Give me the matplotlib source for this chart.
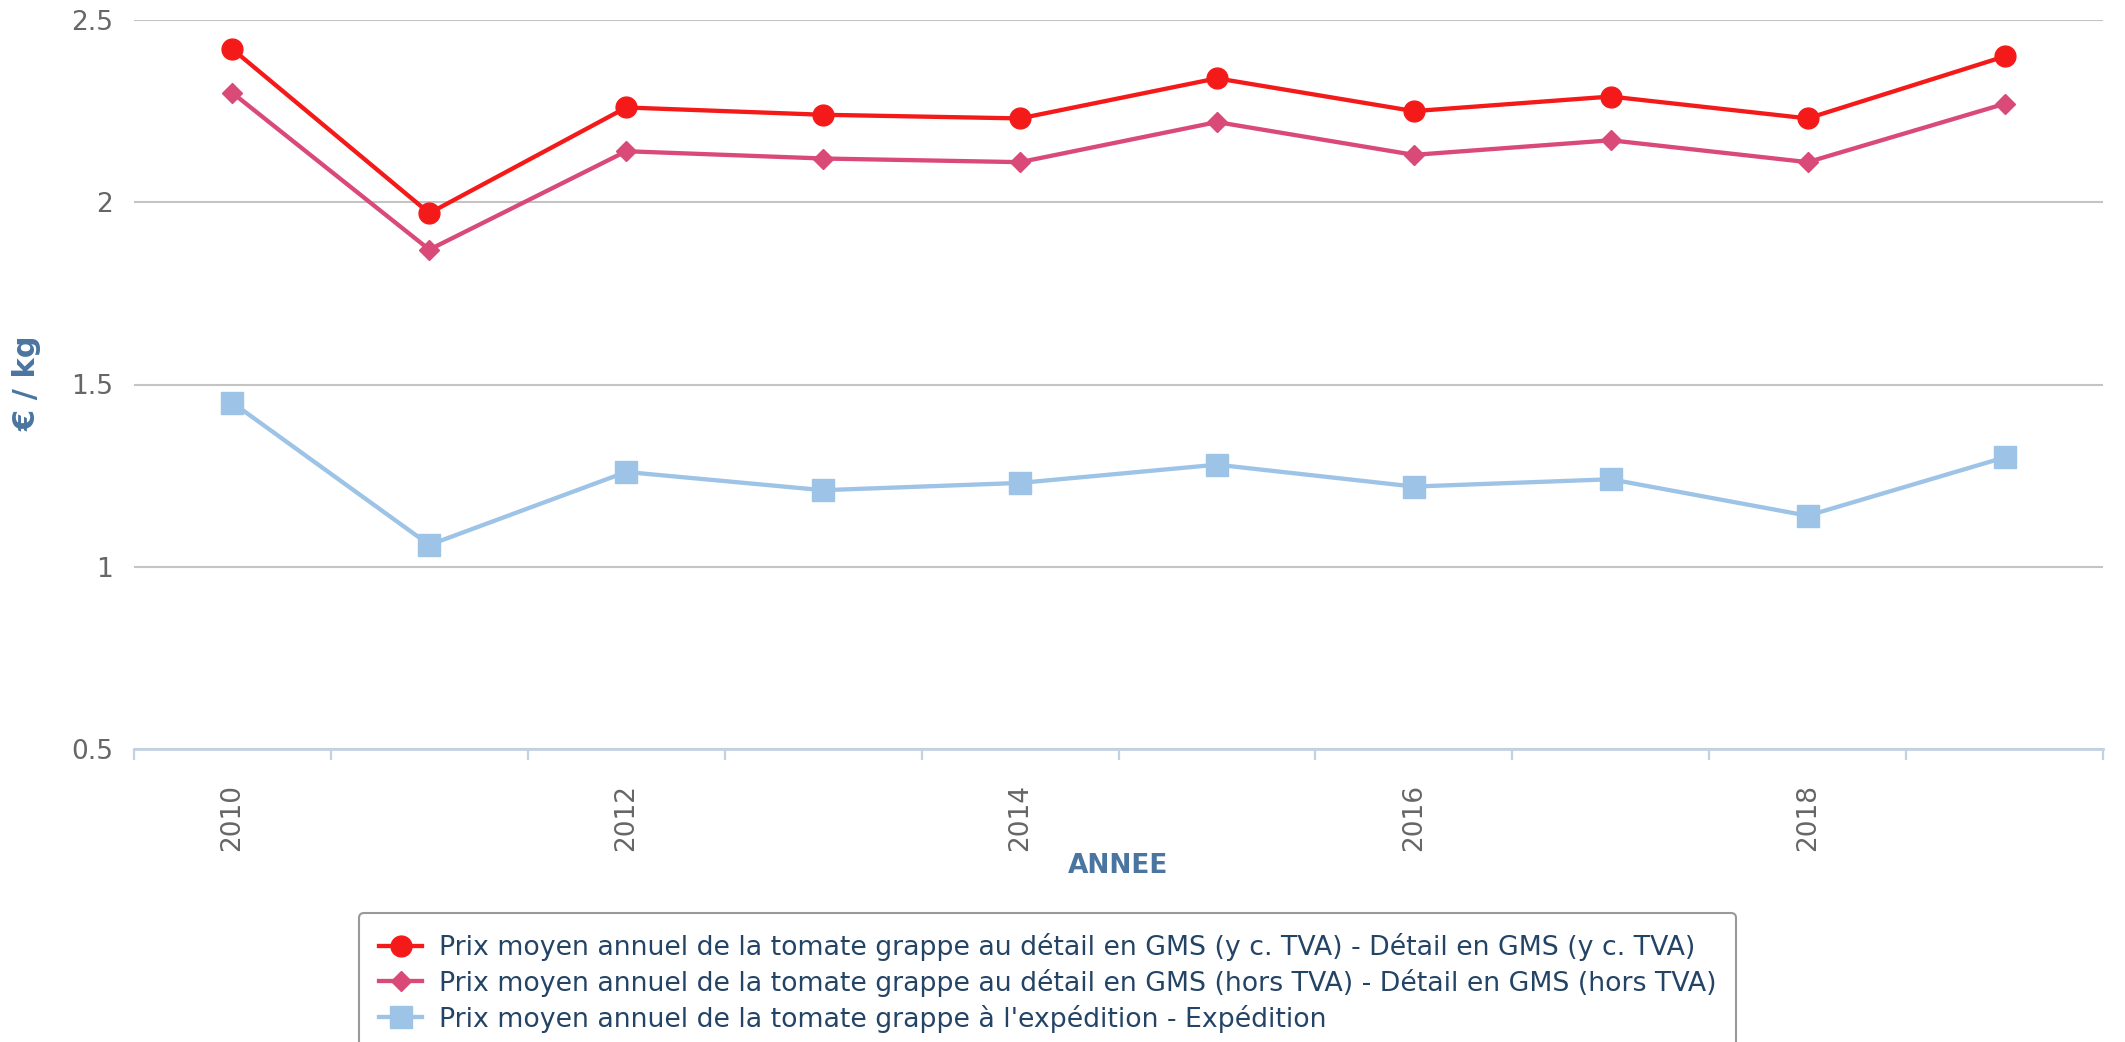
import matplotlib
matplotlib.use("Agg")
import matplotlib.pyplot as plt
from matplotlib.ticker import FixedLocator, NullFormatter

years = [2010, 2011, 2012, 2013, 2014, 2015, 2016, 2017, 2018, 2019]
detail_ttc = [2.42, 1.97, 2.26, 2.24, 2.23, 2.34, 2.25, 2.29, 2.23, 2.40]
detail_ht = [2.30, 1.87, 2.14, 2.12, 2.11, 2.22, 2.13, 2.17, 2.11, 2.27]
expedition = [1.45, 1.06, 1.26, 1.21, 1.23, 1.28, 1.22, 1.24, 1.14, 1.30]
labels = [
    "Prix moyen annuel de la tomate grappe au détail en GMS (y c. TVA) - Détail en GMS (y c. TVA)",
    "Prix moyen annuel de la tomate grappe au détail en GMS (hors TVA) - Détail en GMS (hors TVA)",
    "Prix moyen annuel de la tomate grappe à l'expédition - Expédition",
]
y_ticks = [0.5, 1.0, 1.5, 2.0, 2.5]
y_ticklabels = ["0.5", "1", "1.5", "2", "2.5"]

plt.rcParams['font.family'] = ['DejaVu Sans']

W, H = 2125, 1042
fig = plt.figure(figsize=(W / 100, H / 100), dpi=100)
left, right, top, bottom = 134, 2103, 20, 749
ax = fig.add_axes([left / W, 1 - bottom / H, (right - left) / W, (bottom - top) / H])

x = list(range(len(years)))
l1, = ax.plot(x, detail_ttc, color='#f41a1a', lw=3.1, marker='o', ms=15, zorder=4)
l2, = ax.plot(x, detail_ht, color='#da4a78', lw=3.1, marker='D', ms=10.5, zorder=3)
l3, = ax.plot(x, expedition, color='#9dc3e6', lw=3.1, marker='s', ms=15.5, zorder=2)

ax.set_xlim(-0.5, len(years) - 0.5)
ax.set_ylim(0.5, 2.5)

ax.set_yticks(y_ticks)
ax.set_yticklabels(y_ticklabels)
ax.tick_params(axis='y', length=0, pad=15, labelsize=19, labelcolor='#666666')
ax.yaxis.grid(True, color='#c4c4c4', lw=1.5)
ax.set_axisbelow(True)

major_pos = [i for i in x if years[i] % 2 == 0]
ax.set_xticks(major_pos)
ax.set_xticklabels([str(years[i]) for i in major_pos], rotation=90, va='top', ha='center')
ax.tick_params(axis='x', which='major', length=0, pad=25, labelsize=19, labelcolor='#666666')
ax.xaxis.set_minor_locator(FixedLocator([i - 0.5 for i in range(len(years) + 1)]))
ax.xaxis.set_minor_formatter(NullFormatter())
ax.tick_params(axis='x', which='minor', length=8, width=1.6, color='#c3d1e2', direction='out')

for s in ['top', 'right', 'left']:
    ax.spines[s].set_visible(False)
ax.spines['bottom'].set_color('#c3d1e2')
ax.spines['bottom'].set_linewidth(2)
ax.spines['bottom'].set_zorder(5)

fig.text(27 / W, 1 - 383 / H, "€ / kg", rotation=90, ha='center', va='center',
         fontsize=22, fontweight='bold', color='#4a75a0')
fig.text(1118 / W, 1 - 866 / H, "ANNEE", ha='center', va='center',
         fontsize=19, fontweight='bold', color='#4a75a0')

leg = fig.legend([l1, l2, l3], labels, loc='upper left',
                 bbox_to_anchor=(359 / W, 1 - 913 / H), borderaxespad=0,
                 fontsize=19.3, frameon=True, fancybox=True,
                 handlelength=1.6, handletextpad=0.62, labelspacing=0.29,
                 borderpad=0.75, edgecolor='#999999', framealpha=1)
leg.get_frame().set_linewidth(1.5)
for t in leg.get_texts():
    t.set_color('#244466')

fig.savefig("out.png", dpi=100)
